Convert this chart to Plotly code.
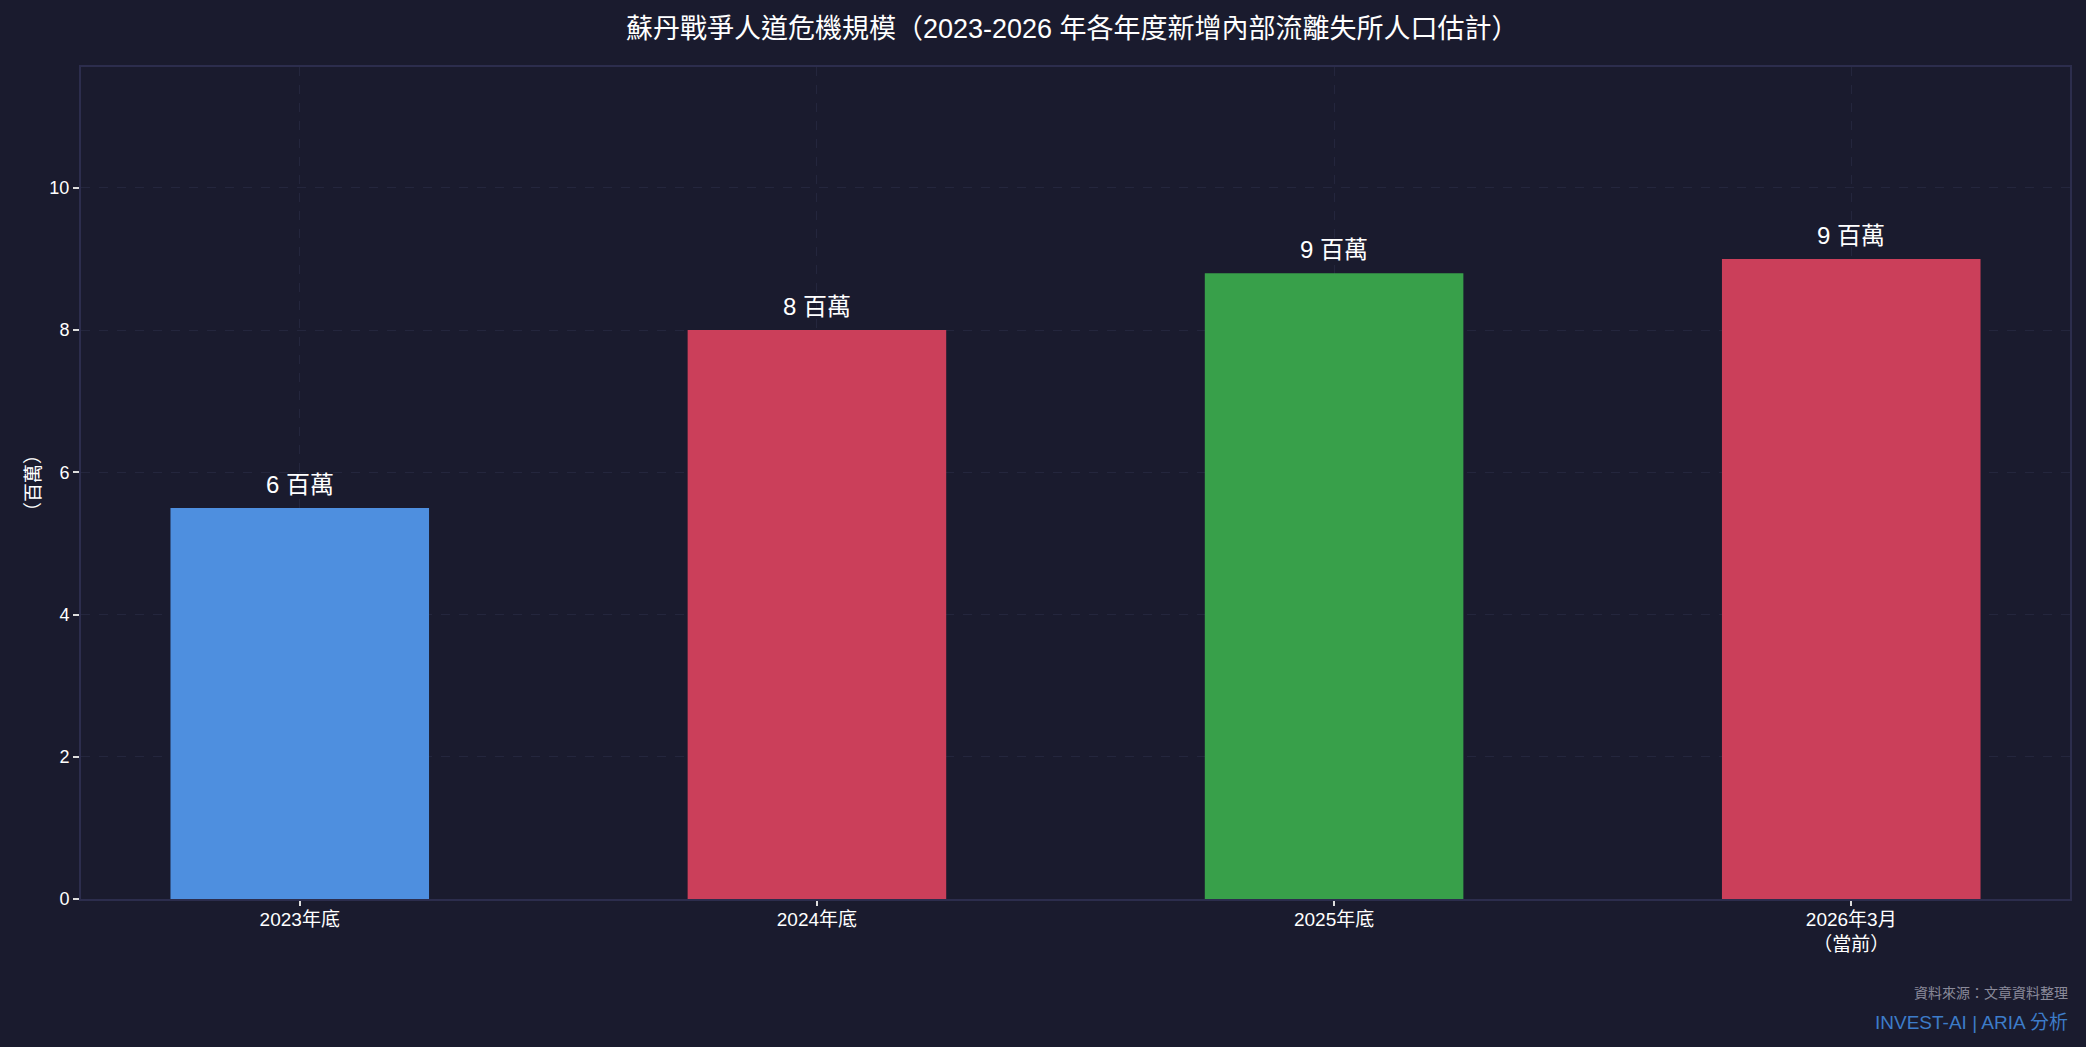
import plotly.graph_objects as go

categories = ["2023年底", "2024年底", "2025年底", "2026年3月<br>（當前）"]
values = [5.5, 8.0, 8.8, 9.0]
labels = ["6 百萬", "8 百萬", "9 百萬", "9 百萬"]
colors = ["#4e8fdf", "#cb3f5a", "#38a04a", "#cb3f5a"]
y_ticks = [0, 2, 4, 6, 8, 10]

BG = "#1a1b2e"
FONT = "Liberation Sans, Noto Sans CJK TC, sans-serif"

fig = go.Figure()
fig.add_trace(go.Bar(
    x=categories, y=values, width=0.5,
    marker=dict(color=colors, line=dict(width=0)),
    hoverinfo="skip",
))

for c, v, t in zip(categories, values, labels):
    fig.add_annotation(x=c, y=v, text=t, showarrow=False, xref="x", yref="y",
                       yanchor="bottom", yshift=8,
                       font=dict(size=24, color="#ffffff", family=FONT))

fig.add_annotation(text="資料來源：文章資料整理", xref="paper", yref="paper",
                   x=1, y=-0.113, xanchor="right", yanchor="middle", showarrow=False,
                   font=dict(size=14, color="#8a8a9a", family=FONT))
fig.add_annotation(text="INVEST-AI | ARIA 分析", xref="paper", yref="paper",
                   x=1, y=-0.148, xanchor="right", yanchor="middle", showarrow=False,
                   font=dict(size=19, color="#3d7cc9", family=FONT))

fig.update_layout(
    width=2086, height=1047,
    paper_bgcolor=BG, plot_bgcolor=BG,
    margin=dict(l=81, r=16, t=67, b=148),
    font=dict(family=FONT, color="#ffffff"),
    showlegend=False,
    title=dict(text="蘇丹戰爭人道危機規模（2023-2026 年各年度新增內部流離失所人口估計）",
               x=0.514, xanchor="center", y=0.973, yanchor="middle",
               font=dict(size=27, color="#ffffff", family=FONT)),
    xaxis=dict(
        range=[-0.423, 3.423],
        showgrid=True, gridcolor="#24263d", griddash="dash", gridwidth=1,
        ticks="outside", ticklen=5, tickcolor="#dddddd", tickwidth=2,
        tickfont=dict(size=19, color="#ffffff"),
        ticklabelstandoff=-3,
        showline=True, linecolor="#2c2d4d", linewidth=2, mirror=True,
        zeroline=False,
    ),
    yaxis=dict(
        range=[0, 11.7], tickvals=y_ticks,
        showgrid=True, gridcolor="#24263d", griddash="dash", gridwidth=1,
        ticks="outside", ticklen=6, tickcolor="#dddddd", tickwidth=2,
        tickfont=dict(size=18, color="#ffffff"),
        showline=True, linecolor="#2c2d4d", linewidth=2, mirror=True,
        zeroline=False,
        title=dict(text="（百萬）", font=dict(size=19, color="#ffffff"), standoff=4),
    ),
)

fig.write_html("out.html",
               config={"displayModeBar": False},
               post_script="document.body.style.margin='0';document.body.style.background='#1a1b2e';")
